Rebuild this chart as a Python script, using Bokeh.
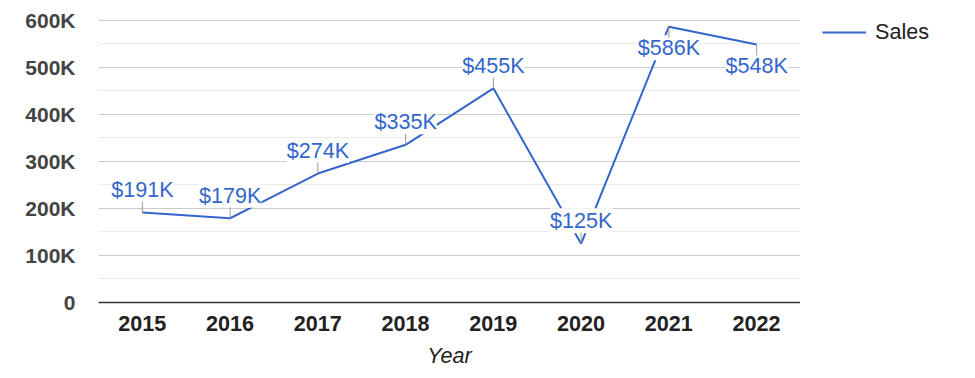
from bokeh.plotting import figure
from bokeh.models import (ColumnDataSource, Range1d, SingleIntervalTicker, CustomJSTickFormatter,
                          Legend, LegendItem, FactorRange)
from bokeh.layouts import row
from bokeh.core.properties import value
from bokeh.embed import file_html
from bokeh.resources import INLINE

years = ["2015", "2016", "2017", "2018", "2019", "2020", "2021", "2022"]
sales = [191000, 179000, 274000, 335000, 455000, 125000, 586000, 548000]
label_below = [False, False, False, False, False, False, True, True]
series_name = "Sales"
y_ticks_max = 600000
y_tick_step = 100000

FONT = "Liberation Sans"
BLUE = "#3366cc"
FS = "21.6px"
FRAME_H = 283

p = figure(width=800, height=378, output_backend="svg", toolbar_location=None,
           x_range=FactorRange(*years, range_padding=0),
           y_range=Range1d(0, y_ticks_max * 1.002),
           min_border_left=98, min_border_right=0, min_border_top=19, min_border_bottom=76)
p.outline_line_color = None
p.background_fill_color = "white"
p.border_fill_color = "white"

# grid
p.ygrid.ticker = SingleIntervalTicker(interval=y_tick_step, num_minor_ticks=2)
p.ygrid.grid_line_color = "#cccccc"
p.ygrid.minor_grid_line_color = "#ebebeb"
p.xgrid.grid_line_color = None

# y axis
p.yaxis.ticker = SingleIntervalTicker(interval=y_tick_step, num_minor_ticks=0)
p.yaxis.formatter = CustomJSTickFormatter(code="return tick == 0 ? '0' : (tick/1000) + 'K';")
p.yaxis.axis_line_color = None
p.yaxis.major_tick_line_color = None
p.yaxis.minor_tick_line_color = None
p.yaxis.major_tick_out = 0
p.yaxis.minor_tick_out = 0
p.yaxis.major_label_standoff = 23
p.yaxis.major_label_text_font = FONT
p.yaxis.major_label_text_font_size = "21px"
p.yaxis.major_label_text_font_style = "bold"
p.yaxis.major_label_text_color = "#444444"

# x axis
p.xaxis.axis_line_color = "#333333"
p.xaxis.axis_line_width = 1.5
p.xaxis.major_tick_line_color = None
p.xaxis.minor_tick_line_color = None
p.xaxis.major_tick_out = 0
p.xaxis.minor_tick_out = 0
p.xaxis.major_label_standoff = 13
p.xaxis.major_label_text_font = FONT
p.xaxis.major_label_text_font_size = FS
p.xaxis.major_label_text_font_style = "bold"
p.xaxis.major_label_text_color = "#222222"
p.xaxis.axis_label = "Year"
p.xaxis.axis_label_text_font = FONT
p.xaxis.axis_label_text_font_size = FS
p.xaxis.axis_label_text_font_style = "italic"
p.xaxis.axis_label_text_color = "#222222"
p.xaxis.axis_label_standoff = 9

# stems and labels
px_per_unit = FRAME_H / y_ticks_max
stem_len = 11 / px_per_unit
stem_end = [v - stem_len if b else v + stem_len for v, b in zip(sales, label_below)]
labels = ["$%dK" % round(v / 1000) for v in sales]
offs = [21 if b else -23 for b in label_below]
src = ColumnDataSource(dict(x=years, y=sales, y1=stem_end, t=labels, off=offs))

r = p.line(x="x", y="y", source=src, line_color=BLUE, line_width=2)
p.text(x="x", y="y", text="t", y_offset="off", source=src, text_align="center",
       text_baseline="alphabetic", text_font=value(FONT), text_font_size=FS, text_color=BLUE,
       background_fill_color="white")
p.segment(x0="x", y0="y", x1="x", y1="y1", source=src, line_color="#999999", line_width=1)

# legend panel on the right (hidden helper renderer supplies the swatch style)
q = figure(width=175, height=378, output_backend="svg", toolbar_location=None,
           x_range=Range1d(0, 1), y_range=Range1d(0, 1),
           min_border_left=22, min_border_right=0, min_border_top=11, min_border_bottom=0)
q.axis.visible = False
q.grid.visible = False
q.outline_line_color = None
q.background_fill_color = "white"
q.border_fill_color = "white"
r2 = q.line(x=[0], y=[0], line_color=BLUE, line_width=2)
legend = Legend(items=[LegendItem(label=series_name, renderers=[r2])], location="top_left",
                glyph_width=44, glyph_height=20, label_height=20, label_standoff=9,
                padding=0, margin=0, border_line_color=None, background_fill_alpha=0,
                label_text_font=FONT, label_text_font_size=FS, label_text_color="#222222")
q.add_layout(legend, "center")

layout = row(p, q)
open("out.html", "w").write(file_html(layout, INLINE))
